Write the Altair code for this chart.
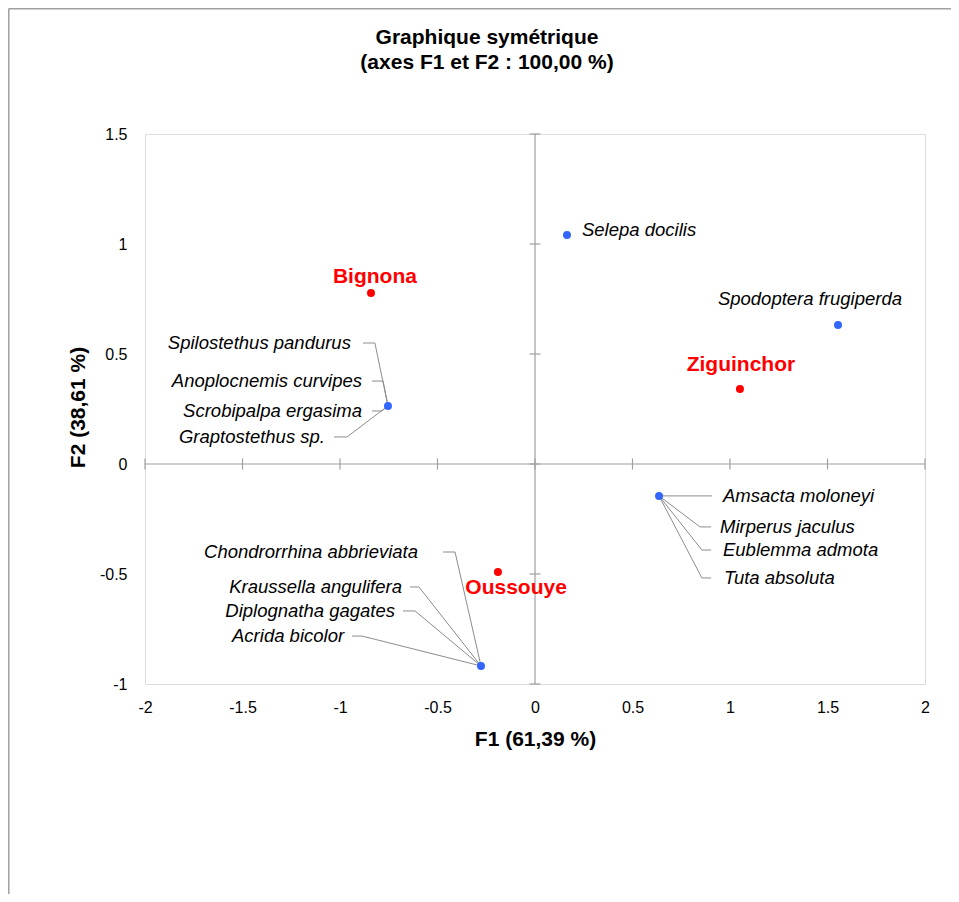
import altair as alt
import pandas as pd

# ---------------- data ----------------
site_names = ["Bignona", "Ziguinchor", "Oussouye"]
site_f1 = [-0.841, 1.051, -0.190]
site_f2 = [0.777, 0.341, -0.491]
site_label_f1 = [-0.821, 1.056, -0.097]
site_label_f2 = [0.850, 0.450, -0.564]

species_names = [
    "Selepa docilis", "Spodoptera frugiperda",
    "Spilostethus pandurus", "Anoplocnemis curvipes", "Scrobipalpa ergasima", "Graptostethus sp.",
    "Chondrorrhina abbrieviata", "Kraussella angulifera", "Diplognatha gagates", "Acrida bicolor",
    "Amsacta moloneyi", "Mirperus jaculus", "Eublemma admota", "Tuta absoluta",
]
species_f1 = [0.164, 1.554,
              -0.754, -0.754, -0.754, -0.754,
              -0.277, -0.277, -0.277, -0.277,
              0.636, 0.636, 0.636, 0.636]
species_f2 = [1.041, 0.632,
              0.264, 0.264, 0.264, 0.264,
              -0.918, -0.918, -0.918, -0.918,
              -0.145, -0.145, -0.145, -0.145]
# label anchors (data units)
label_f1 = [0.241, 0.938,
            -0.944, -0.887, -0.887, -1.077,
            -0.600, -0.682, -0.718, -0.979,
            0.964, 0.949, 0.964, 0.969]
label_f2 = [1.064, 0.750,
            0.550, 0.377, 0.241, 0.123,
            -0.400, -0.559, -0.668, -0.782,
            -0.145, -0.286, -0.391, -0.518]
label_side = ["left", "left",
              "right", "right", "right", "right",
              "right", "right", "right", "right",
              "left", "left", "left", "left"]
# leader lines: end near the text, and elbow (data units); None = no leader
leader_near_f1 = [None, None,
                  -0.882, -0.836, -0.836, -1.031,
                  -0.472, -0.641, -0.677, -0.938,
                  0.908, 0.903, 0.903, 0.903]
leader_elbow_f1 = [None, None,
                   -0.821, -0.779, -0.785, -0.964,
                   -0.410, -0.595, -0.615, -0.887,
                   0.846, 0.846, 0.856, 0.856]

x_ticks = [-2, -1.5, -1, -0.5, 0, 0.5, 1, 1.5, 2]
y_ticks = [-1, -0.5, 0, 0.5, 1, 1.5]

# ---------------- tables ----------------
sites = pd.DataFrame({"name": site_names, "f1": site_f1, "f2": site_f2,
                      "lf1": site_label_f1, "lf2": site_label_f2})
species = pd.DataFrame({"name": species_names, "f1": species_f1, "f2": species_f2,
                        "lf1": label_f1, "lf2": label_f2, "side": label_side})
species_pts = species.drop_duplicates(subset=["f1", "f2"])

rows = []
for i, n in enumerate(species_names):
    if leader_near_f1[i] is None:
        continue
    rows.append({"name": n, "o": 0, "f1": leader_near_f1[i], "f2": label_f2[i]})
    rows.append({"name": n, "o": 1, "f1": leader_elbow_f1[i], "f2": label_f2[i]})
    rows.append({"name": n, "o": 2, "f1": species_f1[i], "f2": species_f2[i]})
leaders = pd.DataFrame(rows)

FONT = "Liberation Sans"
GRAY = "#A0A0A0"

xs = alt.Scale(domain=[-2, 2], nice=False, zero=False)
ys = alt.Scale(domain=[-1, 1.5], nice=False, zero=False)

X = alt.X("f1:Q", scale=xs, axis=alt.Axis(
    values=x_ticks, labelExpr="toString(datum.value)", title="F1 (61,39 %)",
    domain=False, grid=False, ticks=False, tickSize=0, labelFlush=False,
    labelFont=FONT, labelFontSize=16, labelColor="black", labelPadding=28,
    labelBaseline="alphabetic",
    titleFont=FONT, titleFontSize=21, titleFontWeight="bold", titleColor="black",
    titleY=61, titleBaseline="alphabetic"))
Y = alt.Y("f2:Q", scale=ys, axis=alt.Axis(
    values=y_ticks, labelExpr="toString(datum.value)", title="F2 (38,61 %)",
    domain=False, grid=False, ticks=False, tickSize=0, labelFlush=False,
    labelFont=FONT, labelFontSize=16, labelColor="black", labelPadding=18,
    titleFont=FONT, titleFontSize=21, titleFontWeight="bold", titleColor="black",
    titleX=-61, titleY=273, titleAngle=270, titleBaseline="alphabetic"))

xn = alt.X("f1:Q", scale=xs)
yn = alt.Y("f2:Q", scale=ys)

zero_df = pd.DataFrame({"f1": [0.0], "f2": [0.0]})
vline = alt.Chart(zero_df).mark_rule(color=GRAY, strokeWidth=1.2).encode(x=X)
hline = alt.Chart(zero_df).mark_rule(color=GRAY, strokeWidth=1.2).encode(y=Y)

vt = alt.Chart(pd.DataFrame({"f1": [0.0] * len(y_ticks), "f2": y_ticks})).mark_point(
    shape="M-1,0L1,0", size=121, filled=False, color=GRAY, strokeWidth=1.2, opacity=1
).encode(x=xn, y=yn)
ht = alt.Chart(pd.DataFrame({"f1": x_ticks, "f2": [0.0] * len(x_ticks)})).mark_point(
    shape="M0,-1L0,1", size=121, filled=False, color=GRAY, strokeWidth=1.2, opacity=1
).encode(x=xn, y=yn)

lead = alt.Chart(leaders).mark_line(color="#8C8C8C", strokeWidth=1).encode(
    x=xn, y=yn, detail="name:N", order="o:Q")

sp_pts = alt.Chart(species_pts).mark_circle(size=64, color="#3366FF", opacity=1).encode(x=xn, y=yn)
site_pts = alt.Chart(sites).mark_circle(size=64, color="#FF0000", opacity=1).encode(x=xn, y=yn)

lab_left = alt.Chart(species).transform_filter(alt.datum.side == "left").mark_text(
    align="left", baseline="middle", font=FONT, fontSize=18.5, fontStyle="italic", color="black"
).encode(x=alt.X("lf1:Q", scale=xs), y=alt.Y("lf2:Q", scale=ys), text="name:N")
lab_right = alt.Chart(species).transform_filter(alt.datum.side == "right").mark_text(
    align="right", baseline="middle", font=FONT, fontSize=18.5, fontStyle="italic", color="black"
).encode(x=alt.X("lf1:Q", scale=xs), y=alt.Y("lf2:Q", scale=ys), text="name:N")
site_lab = alt.Chart(sites).mark_text(
    align="center", baseline="middle", font=FONT, fontSize=21, fontWeight="bold", color="#FF0000"
).encode(x=alt.X("lf1:Q", scale=xs), y=alt.Y("lf2:Q", scale=ys), text="name:N")

one = pd.DataFrame({"a": [0]})
frame_top = alt.Chart(one).mark_rule(color=GRAY, strokeWidth=1.5).encode(
    x=alt.value(-136.5), x2=alt.value(806), y=alt.value(-125.2))
frame_left = alt.Chart(one).mark_rule(color=GRAY, strokeWidth=1.5).encode(
    x=alt.value(-136.2), y=alt.value(-125.2), y2=alt.value(760))

chart = alt.layer(
    vline, hline, vt, ht, lead, sp_pts, site_pts, lab_left, lab_right, site_lab,
    frame_top, frame_left
).properties(
    width=780, height=550,
    padding={"left": 137, "top": 126, "right": 26, "bottom": 210},
    autosize=alt.AutoSizeParams(type="none"),
    title=alt.TitleParams(
        text=["Graphique symétrique", "(axes F1 et F2 : 100,00 %)"],
        font=FONT, fontSize=21, fontWeight="bold", color="black",
        anchor="middle", frame="group", baseline="alphabetic",
        offset=-82, dx=-48, lineHeight=25),
).configure_view(stroke=GRAY, strokeWidth=1.2).configure(background="white")

chart.save("out.html", embed_options={"renderer": "svg", "actions": False})
